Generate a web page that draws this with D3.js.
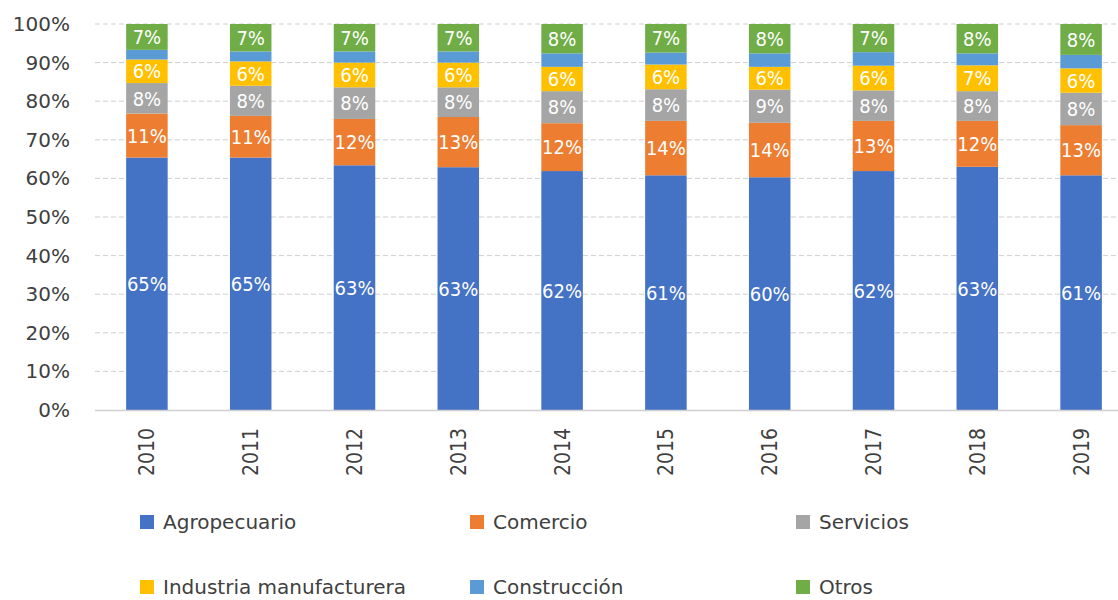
<!DOCTYPE html>
<html>
<head>
<meta charset="utf-8">
<script src="https://cdn.jsdelivr.net/npm/d3@7"></script>
<style>
  body { margin: 0; background: #fff; }
  svg { display: block; font-family: "DejaVu Sans Condensed", "DejaVu Sans", sans-serif; }
</style>
</head>
<body>
<svg width="1118" height="600"></svg>
<script>
const years = ["2010", "2011", "2012", "2013", "2014", "2015", "2016", "2017", "2018", "2019"];
const series = ["Agropecuario", "Comercio", "Servicios", "Industria manufacturera", "Construcción", "Otros"];
const colors = ["#4472C4", "#ED7D31", "#A5A5A5", "#FFC000", "#5B9BD5", "#70AD47"];

// shares in percent
const agropecuario = [65.4, 65.4, 63.4, 62.9, 61.9, 60.8, 60.3, 61.9, 63.0, 60.8];
const comercio     = [11.4, 10.8, 12.0, 13.0, 12.4, 14.1, 14.1, 13.0, 11.9, 13.0];
const servicios    = [7.9, 7.8, 8.2, 7.7, 8.3, 8.2, 8.6, 7.9, 7.7, 8.4];
const industria    = [6.1, 6.3, 6.4, 6.4, 6.3, 6.4, 5.9, 6.4, 6.7, 6.3];
const construccion = [2.5, 2.6, 2.9, 2.9, 3.5, 3.1, 3.5, 3.5, 3.1, 3.5];
const otros        = [6.7, 7.1, 7.1, 7.1, 7.6, 7.4, 7.6, 7.3, 7.6, 8.0];

const yTicks = [0, 0.1, 0.2, 0.3, 0.4, 0.5, 0.6, 0.7, 0.8, 0.9, 1];
const unlabeled = ["Construcción"];

const values = [agropecuario, comercio, servicios, industria, construccion, otros];
const rows = years.map((y, i) => {
	const r = { year: y };
	series.forEach((s, j) => (r[s] = values[j][i] / 100));
	return r;
});

const svg = d3.select("svg");

const x = d3.scaleBand().domain(years).range([95, 1133]).paddingInner(0.6).paddingOuter(0.3);
const y = d3.scaleLinear().domain([0, 1]).range([410, 24]);
const color = d3.scaleOrdinal().domain(series).range(colors);
const pct = d3.format(".0%");

// gridlines
svg.append("g")
	.selectAll("line")
	.data(yTicks.filter((t) => t > 0))
	.enter()
	.append("line")
	.attr("x1", 95)
	.attr("x2", 1133)
	.attr("y1", (d) => y(d))
	.attr("y2", (d) => y(d))
	.attr("stroke", "#cfcfcf")
	.attr("stroke-width", 1)
	.attr("stroke-dasharray", "5,3");

// y axis labels
const yAxis = svg.append("g")
	.attr("transform", "translate(70,0)")
	.call(d3.axisLeft(y).tickValues(yTicks).tickFormat(pct).tickSize(0).tickPadding(0));
yAxis.select(".domain").remove();
yAxis.selectAll("text")
	.attr("font-size", 20)
	.attr("font-family", "DejaVu Sans, sans-serif")
	.attr("fill", "#404040");

// stacked bars
const stack = d3.stack().keys(series);
const layers = stack(rows);

const layerG = svg.append("g")
	.selectAll("g")
	.data(layers)
	.enter()
	.append("g")
	.attr("fill", (d) => color(d.key));

layerG.selectAll("rect")
	.data((d) => d)
	.enter()
	.append("rect")
	.attr("x", (d) => x(d.data.year))
	.attr("width", x.bandwidth())
	.attr("y", (d) => y(d[1]))
	.attr("height", (d) => y(d[0]) - y(d[1]));

// data labels
layerG.filter((d) => !unlabeled.includes(d.key))
	.selectAll("text")
	.data((d) => d.map((p) => ({ p: p, key: d.key })))
	.enter()
	.append("text")
	.attr("x", (d) => x(d.p.data.year) + x.bandwidth() / 2)
	.attr("y", (d) => (y(d.p[0]) + y(d.p[1])) / 2)
	.attr("dy", "0.36em")
	.attr("text-anchor", "middle")
	.attr("font-size", 20)
	.attr("fill", "#fff")
	.text((d) => pct(d.p.data[d.key]));

// x axis line
svg.append("line")
	.attr("x1", 95)
	.attr("x2", 1133)
	.attr("y1", 410.5)
	.attr("y2", 410.5)
	.attr("stroke", "#d0d0d0")
	.attr("stroke-width", 1.5);

// year labels, rotated
svg.append("g")
	.selectAll("text")
	.data(years)
	.enter()
	.append("text")
	.attr("transform", (d) => `translate(${x(d) + x.bandwidth() / 2},428) rotate(-90)`)
	.attr("dy", "0.36em")
	.attr("text-anchor", "end")
	.attr("font-size", 21)
	.attr("fill", "#404040")
	.text((d) => d);

// legend
const legendX = [140, 470, 796];
const legendY = [522, 587];
const legend = svg.append("g")
	.selectAll("g")
	.data(series)
	.enter()
	.append("g")
	.attr("transform", (d, i) => `translate(${legendX[i % 3]},${legendY[Math.floor(i / 3)]})`);

legend.append("rect")
	.attr("x", 0)
	.attr("y", -7)
	.attr("width", 14)
	.attr("height", 14)
	.attr("fill", (d) => color(d));

legend.append("text")
	.attr("x", 23)
	.attr("dy", "0.36em")
	.attr("font-size", 20)
	.attr("font-family", "DejaVu Sans, sans-serif")
	.attr("fill", "#404040")
	.text((d) => d);
</script>
</body>
</html>
